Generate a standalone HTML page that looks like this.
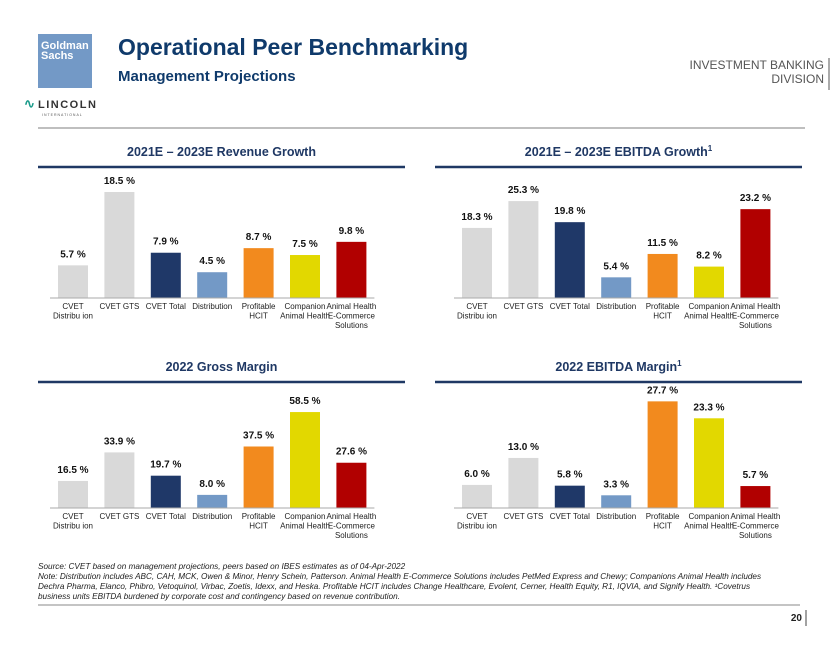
<!DOCTYPE html>
<html><head><meta charset="utf-8"><style>
body{margin:0;background:#fff;width:840px;height:649px;overflow:hidden;font-family:"Liberation Sans",Arial,sans-serif}
svg text{font-family:"Liberation Sans",Arial,sans-serif}
</style></head><body>
<svg id="s" width="840" height="649" viewBox="0 0 840 649">
<rect x="38" y="34" width="54" height="54" fill="#7399c6"/>
<text x="41" y="49" fill="#fff" font-family="Liberation Serif" font-weight="bold" font-size="11">Goldman</text>
<text x="41" y="59" fill="#fff" font-family="Liberation Serif" font-weight="bold" font-size="11">Sachs</text>
<text x="118" y="55" fill="#0f3a6b" font-weight="bold" font-size="23">Operational Peer Benchmarking</text>
<text x="118" y="81" fill="#0f3a6b" font-weight="bold" font-size="15">Management Projections</text>
<text x="824" y="69" fill="#555" font-size="12" text-anchor="end">INVESTMENT BANKING</text>
<text x="824" y="83" fill="#555" font-size="12" text-anchor="end">DIVISION</text>
<line x1="829" y1="58" x2="829" y2="90" stroke="#555" stroke-width="1"/>
<text x="24" y="108" fill="#1a9b8a" font-size="13" font-weight="bold">∿</text>
<text x="38" y="108" fill="#333" font-size="11" font-weight="bold" letter-spacing="1.5">LINCOLN</text>
<text x="42" y="116" fill="#555" font-size="3.5" letter-spacing="1">INTERNATIONAL</text>
<line x1="38" y1="128" x2="805" y2="128" stroke="#999" stroke-width="1.2"/>
<g id="charts"></g>
<text x="38" y="569" fill="#222" font-size="8.2" font-style="italic">Source: CVET based on management projections, peers based on IBES estimates as of 04-Apr-2022</text>
<text x="38" y="579" fill="#222" font-size="8.2" font-style="italic">Note: Distribution includes ABC, CAH, MCK, Owen &amp; Minor, Henry Schein, Patterson. Animal Health E-Commerce Solutions includes PetMed Express and Chewy; Companions Animal Health includes</text>
<text x="38" y="589" fill="#222" font-size="8.2" font-style="italic">Dechra Pharma, Elanco, Phibro, Vetoquinol, Virbac, Zoetis, Idexx, and Heska. Profitable HCIT includes Change Healthcare, Evolent, Cerner, Health Equity, R1, IQVIA, and Signify Health. ¹Covetrus</text>
<text x="38" y="599" fill="#222" font-size="8.2" font-style="italic">business units EBITDA burdened by corporate cost and contingency based on revenue contribution.</text>
<line x1="38" y1="605" x2="800" y2="605" stroke="#888" stroke-width="1"/>
<text x="802" y="621" fill="#222" font-size="10" font-weight="bold" text-anchor="end">20</text>
<line x1="806" y1="610" x2="806" y2="626" stroke="#444" stroke-width="1"/>
</svg>
<script>
const categories=[["CVET","Distribu ion"],["CVET GTS"],["CVET Total"],["Distribution"],["Profitable","HCIT"],["Companion","Animal Health"],["Animal Health","E-Commerce","Solutions"]];
const revenueGrowth=[5.7,18.5,7.9,4.5,8.7,7.5,9.8];
const ebitdaGrowth=[18.3,25.3,19.8,5.4,11.5,8.2,23.2];
const grossMargin=[16.5,33.9,19.7,8.0,37.5,58.5,27.6];
const ebitdaMargin=[6.0,13.0,5.8,3.3,27.7,23.3,5.7];
const colors=["#d9d9d9","#d9d9d9","#1f3868","#7399c6","#f28a1e","#e2d800","#b10000"];
const NS="http://www.w3.org/2000/svg";
const g=document.getElementById('charts');
function mk(t,a,txt){const e=document.createElementNS(NS,t);for(const k in a)e.setAttribute(k,a[k]);if(txt!=null)e.textContent=txt;g.appendChild(e);return e;}
const charts=[
 {name:"revenue-growth",title:"2021E – 2023E Revenue Growth",sup:"",vals:revenueGrowth,x0:73,base:298,ppu:5.73,rule:[38,405],ty:156},
 {name:"ebitda-growth",title:"2021E – 2023E EBITDA Growth",sup:"1",vals:ebitdaGrowth,x0:477,base:298,ppu:3.83,rule:[435,802],ty:156},
 {name:"gross-margin",title:"2022 Gross Margin",sup:"",vals:grossMargin,x0:73,base:508,ppu:1.64,rule:[38,405],ty:371},
 {name:"ebitda-margin",title:"2022 EBITDA Margin",sup:"1",vals:ebitdaMargin,x0:477,base:508,ppu:3.85,rule:[435,802],ty:371}];
charts.forEach(c=>{
 const xs=i=>c.x0+i*46.4;
 const ys=v=>c.base-v*c.ppu;
 const cx=(c.rule[0]+c.rule[1])/2;
 let t=mk('text',{x:cx,y:c.ty,'text-anchor':'middle','font-size':12.5,'font-weight':'bold',fill:'#1f3864'},c.title);
 
 
 if(c.sup){const s=document.createElementNS(NS,'tspan');s.setAttribute('font-size','8');s.setAttribute('dy','-5');s.textContent=c.sup;t.appendChild(s);}
 let r=mk('line',{x1:c.rule[0],x2:c.rule[1],y1:c.ty+11,y2:c.ty+11,stroke:'#1f3864','stroke-width':2.5});
 
 
 c.vals.forEach((v,i)=>{
  const b=mk('rect',{x:xs(i)-15,y:ys(v),width:30,height:c.base-ys(v),fill:colors[i]});
  
  
  const l=mk('text',{x:xs(i),y:ys(v)-8,'text-anchor':'middle','font-size':10,'font-weight':'bold',fill:'#111'},v.toFixed(1)+' %');
  
  
  categories[i].forEach((w,j)=>{
   const ct=mk('text',{x:xs(i),y:c.base+11+j*9.5,'text-anchor':'middle','font-size':8,fill:'#222'},w);
   
   
  });
 });
 const ax=mk('line',{x1:xs(0)-23,x2:xs(6)+23,y1:c.base,y2:c.base,stroke:'#aaa','stroke-width':1});
 
 
});
</script>
</body></html>
